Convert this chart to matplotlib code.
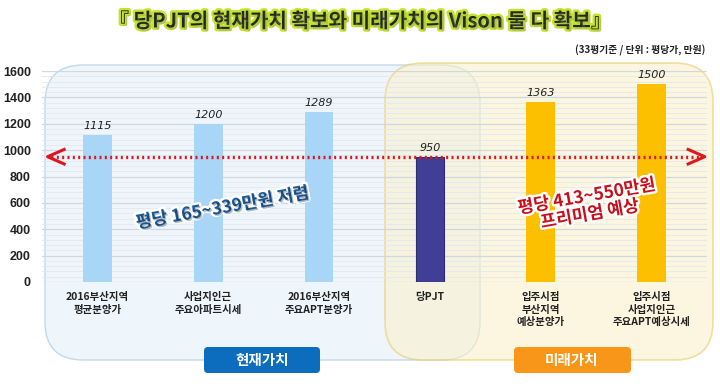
import matplotlib
matplotlib.use("Agg")
import matplotlib.pyplot as plt
from matplotlib.patches import FancyBboxPatch
from matplotlib.transforms import IdentityTransform
import matplotlib.patheffects as pe
import numpy as np

plt.rcParams['font.family'] = ['Noto Sans CJK KR', 'DejaVu Sans']

categories = ["2016부산지역\n평균분양가", "사업지인근\n주요아파트시세", "2016부산지역\n주요APT분양가",
              "당PJT", "입주시점\n부산지역\n예상분양가", "입주시점\n사업지인근\n주요APT예상시세"]
values = [1115, 1200, 1289, 950, 1363, 1500]
bar_colors = ["#a9d5f7", "#a9d5f7", "#a9d5f7", "#413f95", "#fcc000", "#fcc000"]
reference_level = 950
yticks = [0, 200, 400, 600, 800, 1000, 1200, 1400, 1600]

title = "『 당PJT의 현재가치 확보와 미래가치의 Vison 둘 다 확보』"
subtitle = "(33평기준 / 단위 : 평당가, 만원)"
note_left = "평당 165~339만원 저렴"
note_right = "평당 413~550만원\n프리미엄 예상"
group_left = "현재가치"
group_right = "미래가치"

W, H = 720, 388
fig = plt.figure(figsize=(W / 100, H / 100), dpi=100)
fig.patch.set_facecolor("white")

def px(x, y):
    return x, H - y

def rbox(x0, y0, x1, y1, r, fc, ec, lw=1.0, alpha=1.0, z=0.1):
    bx, by = px(x0, y1)
    p = FancyBboxPatch((bx + r, by + r), (x1 - x0) - 2 * r, (y1 - y0) - 2 * r,
                       boxstyle=f"round,pad={r}", transform=IdentityTransform(),
                       facecolor=fc, edgecolor=ec, linewidth=lw, alpha=alpha, zorder=z)
    fig.add_artist(p)
    return p

# group background panels
rbox(45, 65, 480, 360, 38, "#eef6fc", "#c2d9ea", 1.0, 1.0, z=0.1)
rbox(385, 63, 713, 360, 38, "#fbf0c8", "#e6c860", 1.2, 0.55, z=0.2)

ax = fig.add_axes([42 / W, (H - 282) / H, (707 - 42) / W, (282 - 71) / H])
ax.set_zorder(1)
ax.patch.set_alpha(0)

x = np.arange(len(values))
ax.set_xlim(-0.5, 5.5)
ax.set_ylim(0, 1600)

# grid
for v in np.arange(0, 1601, 40):
    major = v % 200 == 0
    ax.axhline(v, color="#cfd8e0" if major else "#e3e8ee", lw=0.9 if major else 0.6, zorder=0.5)

bars = ax.bar(x, values, width=0.26, color=bar_colors, zorder=2)
bars[3].set_edgecolor("#2e2c70")
bars[3].set_linewidth(0.8)

for xi, v in zip(x, values):
    ax.text(xi, v + 30, f"{v}", ha="center", va="bottom", fontsize=8,
            style="italic", color="#222222", family=["DejaVu Sans"], zorder=3)

ax.set_yticks(yticks)
ax.set_yticklabels([str(t) for t in yticks], fontsize=9, color="#222222", fontweight="bold",
                   family=["Liberation Sans"])
ax.tick_params(axis="y", length=0, pad=8)
ax.set_xticks(x)
ax.set_xticklabels(categories, fontsize=7.5, fontweight="bold", color="#222222", linespacing=1.35)
ax.tick_params(axis="x", length=0, pad=7)
for s in ax.spines.values():
    s.set_visible(False)

# red dotted double arrow
ax.plot([-0.42, 5.45], [reference_level, reference_level], color="#e0141c", lw=2.4,
        linestyle=(0, (0.6, 1.0)), zorder=4, solid_capstyle="butt")
ax.plot([-0.30, -0.45, -0.30], [reference_level + 55, reference_level, reference_level - 55],
        color="#e0141c", lw=2.2, zorder=4, clip_on=False)
ax.plot([5.33, 5.48, 5.33], [reference_level + 55, reference_level, reference_level - 55],
        color="#e0141c", lw=2.2, zorder=4, clip_on=False)

# diagonal notes
ax.text(1.13, 560, note_left, rotation=10, ha="center", va="center", fontsize=12.5,
        fontweight="bold", color="#1c5b9c", zorder=5,
        path_effects=[pe.withStroke(linewidth=3.5, foreground="white"),
                      pe.SimplePatchShadow(offset=(1, -1))])
ax.text(4.43, 580, note_right, rotation=10, ha="center", va="center", fontsize=12.5,
        fontweight="bold", color="#c8101c", zorder=5, linespacing=1.0,
        path_effects=[pe.withStroke(linewidth=3.5, foreground="white")])

# group labels
rbox(204, 347, 320, 373, 4, "#0c6cbe", "none", 0, 1.0, z=2)
rbox(514, 347, 631, 373, 4, "#f8961a", "none", 0, 1.0, z=2)
fig.text(262 / W, 1 - 360 / H, group_left, ha="center", va="center", fontsize=10.5,
         fontweight="bold", color="white", zorder=3)
fig.text(572 / W, 1 - 360 / H, group_right, ha="center", va="center", fontsize=10.5,
         fontweight="bold", color="white", zorder=3)

# title and subtitle
fig.text(0.5, 1 - 21 / H, title, ha="center", va="center", fontsize=14.5, fontweight="bold",
         color="#1f2a12", zorder=5,
         path_effects=[pe.withStroke(linewidth=3.5, foreground="#c6e22a"),
                       pe.SimplePatchShadow(offset=(1.5, -1.5), shadow_rgbFace="#888888")])
fig.text(705 / W, 1 - 50 / H, subtitle, ha="right", va="center", fontsize=7,
         fontweight="bold", color="#222222")

fig.savefig("out.png", dpi=100)
